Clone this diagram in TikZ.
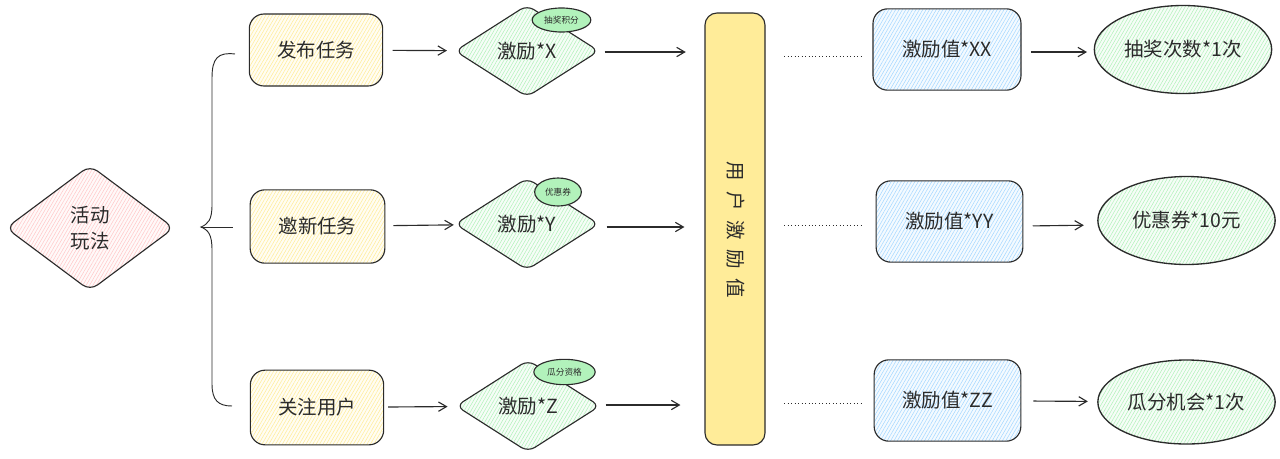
\documentclass[tikz,border=0pt]{standalone}
\usepackage{fontspec}
\setmainfont{Noto Sans CJK SC}
\usetikzlibrary{arrows.meta,patterns.meta,shapes.geometric}
\definecolor{inkline}{HTML}{2B2B2B}
\definecolor{hatchyellow}{HTML}{FFEC99}
\definecolor{hatchgreen}{HTML}{B2F2BB}
\definecolor{hatchblue}{HTML}{A5D8FF}
\definecolor{hatchpink}{HTML}{FFC9C9}
\tikzset{
    sketch/.style={draw=inkline, line width=0.85pt, text=inkline, inner sep=0pt, align=center, font=\fontsize{14.6}{19}\selectfont},
    hatch/.style={preaction={fill=#1!12}, pattern={Lines[angle=60,distance=2.2pt,line width=0.4pt]}, pattern color=#1},
    taskbox/.style={sketch, hatch=hatchyellow, rounded corners=11pt},
    valuebox/.style={sketch, hatch=hatchblue, rounded corners=11pt},
    rewardnode/.style={sketch, hatch=hatchgreen, shape=diamond, rounded corners=6pt, minimum width=108pt, minimum height=69pt},
    prizenode/.style={sketch, hatch=hatchgreen, shape=ellipse, line width=1pt, minimum width=133pt, minimum height=66pt},
    tagnode/.style={sketch, fill=hatchgreen, shape=ellipse, font=\fontsize{6.5}{8}\selectfont},
    flowline/.style={draw=inkline, line width=0.85pt, -{Straight Barb[length=6pt,width=7pt]}},
    dotline/.style={draw=inkline, line width=0.6pt, dotted}
}
\begin{document}
\begin{tikzpicture}[x=0.75pt, y=-0.75pt]
    \useasboundingbox (0,0) rectangle (1280,458);

    % start
    \node[sketch, hatch=hatchpink, shape=diamond, rounded corners=7pt, minimum width=126pt, minimum height=94pt] (play) at (90,228) {活动\\玩法};

    % tasks
    \node[taskbox, minimum width=100pt, minimum height=54pt] (publish) at (316,50) {发布任务};
    \node[taskbox, minimum width=101pt, minimum height=55pt] (invite) at (317.5,226.5) {邀新任务};
    \node[taskbox, minimum width=100pt, minimum height=56pt] (follow) at (317,407.5) {关注用户};

    % brace
    \coordinate (bracetop) at (235,54);
    \coordinate (bracetip) at (201,227);
    \coordinate (bracemid) at (233,227);
    \coordinate (bracelow) at (232,406);
    \draw[draw=inkline, line width=0.7pt] (bracetop) .. controls (218,52) and (212,58) .. (212,78)
        -- (212,205) .. controls (212,220) and (208,224) .. (bracetip)
        .. controls (208,230) and (212,234) .. (212,250)
        -- (212,384) .. controls (212,400) and (218,406) .. (bracelow);
    \draw[draw=inkline, line width=0.7pt] (bracetip) -- (bracemid);

    % rewards
    \node[rewardnode] (rewardx) at (527,51) {激励*X};
    \node[rewardnode] (rewardy) at (527,224) {激励*Y};
    \node[rewardnode] (rewardz) at (528,406) {激励*Z};
    \node[tagnode, minimum width=44pt, minimum height=18pt] (tagx) at (561.5,20) {抽奖积分};
    \node[tagnode, minimum width=35pt, minimum height=21pt] (tagy) at (558,192) {优惠券};
    \node[tagnode, minimum width=46pt, minimum height=19pt] (tagz) at (564.5,372) {瓜分资格};

    % user value bar
    \node[draw=inkline, line width=0.85pt, fill=hatchyellow, rounded corners=9pt, minimum width=45pt, minimum height=324pt] (bar) at (735,229) {};
    \node[text=inkline, rotate=-90, font=\fontsize{14.6}{19}\selectfont] (bartext) at (736,230) {用\hspace{0.5em}户\hspace{0.5em}激\hspace{0.5em}励\hspace{0.5em}值};

    % values
    \node[valuebox, minimum width=111pt, minimum height=61pt] (valuex) at (947,49.5) {激励值*XX};
    \node[valuebox, minimum width=110pt, minimum height=61pt] (valuey) at (949.5,221.5) {激励值*YY};
    \node[valuebox, minimum width=110pt, minimum height=61pt] (valuez) at (947.5,400.5) {激励值*ZZ};

    % prizes
    \node[prizenode] (prizex) at (1183,49.5) {抽奖次数*1次};
    \node[prizenode] (prizey) at (1186.5,220.5) {优惠券*10元};
    \node[prizenode, minimum height=63pt] (prizez) at (1186.5,402) {瓜分机会*1次};

    % connectors
    \draw[flowline, shorten <=7pt, shorten >=6pt] (publish) -- (rewardx);
    \draw[flowline, shorten <=6pt, shorten >=1.5pt] (invite) -- (rewardy);
    \draw[flowline, shorten <=3pt, shorten >=6.5pt] (follow) -- (rewardz);
    \draw[flowline, shorten <=3.75pt, shorten >=14pt] ([yshift=-0.75pt]rewardx.east) -- ([yshift=-0.75pt]rewardx.east -| bar.west);
    \draw[flowline, shorten <=5.25pt, shorten >=15pt] ([yshift=-2.25pt]rewardy.east) -- ([yshift=-2.25pt]rewardy.east -| bar.west);
    \draw[flowline, shorten <=3.75pt, shorten >=18pt] ([yshift=0.75pt]rewardz.east) -- ([yshift=0.75pt]rewardz.east -| bar.west);
    \draw[dotline, shorten <=14pt, shorten >=8pt] ([yshift=-4.9pt]valuex.west -| bar.east) -- ([yshift=-4.9pt]valuex.west);
    \draw[dotline, shorten <=14pt, shorten >=10pt] ([yshift=-2.6pt]valuey.west -| bar.east) -- ([yshift=-2.6pt]valuey.west);
    \draw[dotline, shorten <=14pt, shorten >=9pt] ([yshift=-1.9pt]valuez.west -| bar.east) -- ([yshift=-1.9pt]valuez.west);
    \draw[flowline, shorten <=7pt, shorten >=5pt] ([yshift=-1.9pt]valuex.east) -- ([yshift=-1.9pt]prizex.west);
    \draw[flowline, shorten <=7pt, shorten >=10pt] ([yshift=-3.4pt]valuey.east) -- ([yshift=-3.4pt]prizey.west);
    \draw[flowline, shorten <=9pt, shorten >=7pt] (valuez) -- (prizez);
\end{tikzpicture}
\end{document}
